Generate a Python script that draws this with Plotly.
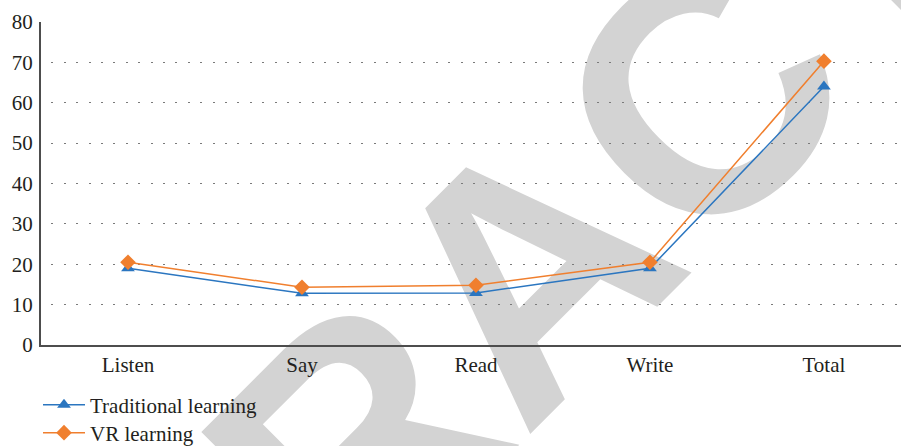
import plotly.graph_objects as go

categories = ["Listen", "Say", "Read", "Write", "Total"]
traditional = [19.0, 12.8, 12.9, 19.0, 64.0]
vr = [20.5, 14.3, 14.8, 20.5, 70.3]
y_ticks = [0, 10, 20, 30, 40, 50, 60, 70, 80]

W, H = 901, 446
L, R, T, B = 41, 0, 22, 101
FONT = "Liberation Serif"
FS = 21
TXT = "#231f20"
BLUE = "#2b76c0"
ORANGE = "#f07f2e"

fig = go.Figure()
fig.add_trace(go.Scatter(
    x=categories, y=traditional, name="Traditional learning", mode="lines+markers",
    line=dict(color=BLUE, width=1.5),
    marker=dict(symbol="triangle-up", size=12, color=BLUE), legend="legend"))
fig.add_trace(go.Scatter(
    x=categories, y=vr, name="VR learning", mode="lines+markers",
    line=dict(color=ORANGE, width=1.5),
    marker=dict(symbol="diamond", size=12, color=ORANGE), legend="legend2"))

pw = W - L - R
ph = H - T - B

def px_x(p):
    return (p - L) / pw

def px_y(p):
    return (H - B - p) / ph

# watermark
fig.add_shape(type="rect", xref="paper", yref="paper",
              x0=px_x(495), x1=px_x(515), y0=px_y(257), y1=px_y(237),
              line=dict(width=0), fillcolor="rgba(0,0,0,0)", layer="between",
              label=dict(text="RETRACTED", textangle=-45, textposition="middle center",
                         font=dict(family="Liberation Sans", size=340, color="#d3d3d3", weight="bold")))

legend_common = dict(xref="container", yref="container", xanchor="left", yanchor="middle",
                     bgcolor="rgba(0,0,0,0)", itemwidth=42,
                     font=dict(size=FS, family=FONT, color=TXT))

fig.update_layout(
    width=W, height=H,
    margin=dict(l=L, r=R, t=T, b=B, pad=0, autoexpand=False),
    paper_bgcolor="white", plot_bgcolor="white",
    font=dict(family=FONT, size=FS, color=TXT),
    xaxis=dict(type="category", range=[-0.5, 4.443], showgrid=False,
               showline=True, linecolor="#4d4d4d", linewidth=2, ticks="",
               ticklabelstandoff=0, tickfont=dict(size=FS, family=FONT, color=TXT),
               zeroline=False),
    yaxis=dict(range=[0, 80], tickvals=y_ticks, showgrid=True, gridcolor="#7a7a7a",
               gridwidth=1, griddash="0px,10.4px,2px,0px", showline=True, linecolor="#4d4d4d",
               linewidth=2, ticks="", ticklabelstandoff=2, zeroline=False,
               tickfont=dict(size=FS, family=FONT, color=TXT)),
    legend=dict(x=38 / W, y=(H - 405) / H, **legend_common),
    legend2=dict(x=38 / W, y=(H - 433) / H, **legend_common),
    showlegend=True,
)

fig.write_html("out.html")
